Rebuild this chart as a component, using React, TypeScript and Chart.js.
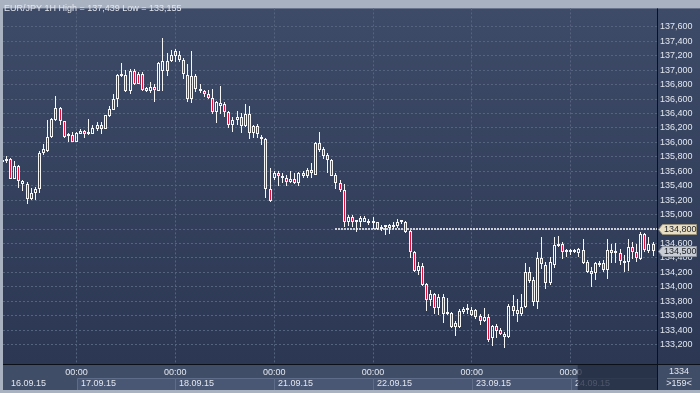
import React, { useEffect, useRef } from 'react';
import { Chart, registerables } from 'chart.js';

Chart.register(...registerables);

const TITLE = 'EUR/JPY 1H High = 137,439 Low = 133,155';

// index of the first (partly hidden) hourly bar: 06:00 on 16.09.15 ; 00:00 17.09.15 is index 17
const firstBarIndex = -1;

const opens = [
  135.740, 135.736, 135.768, 135.499, 135.676, 135.417, 135.427, 135.212, 135.294, 135.349,
  135.859, 135.886, 136.068, 136.313, 136.477, 136.296, 136.086, 136.099, 136.009, 136.122,
  136.154, 136.113, 136.122, 136.191, 136.236, 136.191, 136.364, 136.454, 136.600, 136.927,
  136.931, 136.713, 136.986, 136.950, 136.950, 136.750, 136.705, 136.760, 136.713, 136.986,
  137.122, 137.122, 137.191, 137.214, 137.146, 136.931, 136.600, 136.918, 136.736, 136.705,
  136.668, 136.614, 136.418, 136.508, 136.532, 136.418, 136.236, 136.304, 136.350, 136.222,
  136.395, 136.132, 136.222, 136.041, 136.041, 135.358, 135.509, 135.577, 135.540, 135.509,
  135.450, 135.495, 135.440, 135.577, 135.532, 135.614, 135.554, 135.996, 135.904, 135.826,
  135.750, 135.554, 135.440, 135.341, 134.904, 134.972, 134.895, 134.904, 134.904, 134.918,
  134.895, 134.895, 134.826, 134.822, 134.813, 134.826, 134.836, 134.895, 134.904, 134.768,
  134.485, 134.212, 134.294, 134.039, 133.813, 133.903, 133.704, 133.858, 133.630, 133.639,
  133.448, 133.448, 133.657, 133.676, 133.612, 133.676, 133.599, 133.521, 133.585, 133.294,
  133.462, 133.403, 133.349, 133.302, 133.735, 133.676, 133.630, 133.721, 134.203, 134.099,
  133.794, 134.394, 134.304, 134.053, 134.304, 134.567, 134.599, 134.485, 134.485, 134.476,
  134.462, 134.508, 134.349, 134.176, 134.189, 134.304, 134.335, 134.236, 134.508, 134.462,
  134.462, 134.358, 134.339, 134.553, 134.485, 134.386, 134.735, 134.495, 134.599,
];

const highs = [
  135.754, 135.813, 135.781, 135.736, 135.690, 135.485, 135.450, 135.372, 135.382, 135.881,
  135.976, 136.304, 136.341, 136.645, 136.487, 136.300, 136.132, 136.150, 136.150, 136.191,
  136.167, 136.327, 136.245, 136.282, 136.282, 136.382, 136.508, 136.668, 136.941, 137.101,
  136.996, 137.009, 137.009, 136.968, 136.968, 136.764, 136.832, 136.805, 137.114, 137.439,
  137.237, 137.282, 137.296, 137.259, 137.169, 137.087, 137.259, 136.941, 136.805, 136.723,
  136.723, 136.736, 136.577, 136.781, 136.555, 136.440, 136.358, 136.440, 136.405, 136.532,
  136.508, 136.245, 136.259, 136.099, 136.054, 135.645, 135.600, 135.600, 135.577, 135.554,
  135.600, 135.577, 135.586, 135.600, 135.645, 135.713, 136.009, 136.146, 135.941, 135.859,
  135.768, 135.577, 135.485, 135.417, 134.994, 134.994, 134.908, 134.976, 134.986, 134.940,
  134.972, 134.901, 134.850, 134.850, 134.871, 134.895, 134.940, 134.926, 134.918, 134.785,
  134.495, 134.339, 134.326, 134.053, 133.949, 133.912, 133.895, 133.903, 133.840, 133.653,
  133.530, 133.690, 133.721, 133.758, 133.721, 133.690, 133.622, 133.704, 133.622, 133.476,
  133.485, 133.431, 133.371, 133.758, 133.885, 133.826, 133.903, 134.326, 134.281, 134.131,
  134.485, 134.690, 134.349, 134.417, 134.690, 134.699, 134.622, 134.530, 134.517, 134.530,
  134.540, 134.667, 134.372, 134.281, 134.349, 134.362, 134.372, 134.667, 134.599, 134.612,
  134.530, 134.440, 134.667, 134.622, 134.599, 134.758, 134.744, 134.690, 134.622,
];

const lows = [
  135.713, 135.713, 135.495, 135.495, 135.372, 135.327, 135.144, 135.204, 135.199, 135.294,
  135.826, 135.873, 136.061, 136.290, 136.236, 136.064, 136.009, 136.000, 136.000, 136.109,
  136.054, 136.099, 136.109, 136.154, 136.122, 136.181, 136.350, 136.450, 136.487, 136.904,
  136.695, 136.668, 136.791, 136.805, 136.709, 136.695, 136.678, 136.555, 136.705, 136.709,
  136.918, 137.114, 137.118, 137.114, 136.873, 136.555, 136.541, 136.691, 136.678, 136.631,
  136.600, 136.395, 136.268, 136.395, 136.350, 136.204, 136.146, 136.236, 136.132, 136.214,
  136.041, 136.054, 136.054, 135.963, 135.236, 135.181, 135.485, 135.395, 135.440, 135.395,
  135.431, 135.417, 135.395, 135.509, 135.509, 135.509, 135.545, 135.873, 135.768, 135.577,
  135.532, 135.349, 135.313, 134.826, 134.840, 134.826, 134.758, 134.826, 134.895, 134.850,
  134.795, 134.789, 134.768, 134.721, 134.735, 134.803, 134.813, 134.871, 134.751, 134.394,
  134.203, 134.158, 134.008, 133.667, 133.735, 133.622, 133.612, 133.493, 133.612, 133.431,
  133.312, 133.431, 133.622, 133.622, 133.599, 133.553, 133.476, 133.507, 133.234, 133.176,
  133.294, 133.326, 133.155, 133.294, 133.599, 133.507, 133.599, 133.712, 134.053, 133.735,
  133.690, 134.253, 133.976, 134.021, 134.267, 134.553, 134.386, 134.417, 134.440, 134.462,
  134.417, 134.312, 134.189, 133.994, 134.099, 134.281, 134.203, 134.113, 134.326, 134.326,
  134.304, 134.203, 134.222, 134.386, 134.349, 134.372, 134.485, 134.462, 134.431,
];

const closes = [
  135.731, 135.772, 135.499, 135.676, 135.463, 135.463, 135.212, 135.304, 135.358, 135.859,
  135.904, 136.077, 136.327, 136.477, 136.296, 136.077, 136.113, 136.009, 136.132, 136.154,
  136.113, 136.136, 136.200, 136.236, 136.191, 136.372, 136.463, 136.600, 136.931, 136.920,
  136.713, 136.986, 136.814, 136.814, 136.723, 136.705, 136.764, 136.723, 137.101, 137.122,
  136.986, 137.214, 137.259, 137.146, 136.941, 136.600, 136.918, 136.736, 136.705, 136.668,
  136.614, 136.418, 136.555, 136.541, 136.418, 136.236, 136.313, 136.350, 136.222, 136.395,
  136.132, 136.222, 136.122, 136.068, 135.358, 135.191, 135.577, 135.532, 135.509, 135.450,
  135.495, 135.431, 135.577, 135.532, 135.614, 135.577, 135.996, 135.895, 135.813, 135.750,
  135.540, 135.440, 135.341, 134.904, 134.972, 134.895, 134.904, 134.949, 134.949, 134.885,
  134.890, 134.803, 134.803, 134.826, 134.850, 134.850, 134.904, 134.918, 134.758, 134.485,
  134.212, 134.294, 134.031, 133.813, 133.903, 133.704, 133.858, 133.630, 133.639, 133.448,
  133.493, 133.667, 133.690, 133.712, 133.676, 133.585, 133.521, 133.585, 133.267, 133.462,
  133.394, 133.349, 133.302, 133.735, 133.667, 133.630, 133.721, 134.203, 134.086, 133.794,
  134.394, 134.322, 134.053, 134.349, 134.577, 134.599, 134.485, 134.508, 134.489, 134.508,
  134.530, 134.326, 134.203, 134.212, 134.326, 134.335, 134.236, 134.508, 134.462, 134.485,
  134.358, 134.326, 134.553, 134.485, 134.394, 134.735, 134.508, 134.599, 134.500,
];

const dayLabels = ['16.09.15', '17.09.15', '18.09.15', '21.09.15', '22.09.15', '23.09.15', '24.09.15'];
const dayStartIndex = [-7, 17, 41, 65, 89, 113, 137];
const midnightLabel = '00:00';

const yMin = 132.931;
const yMax = 137.855;
const yTickStep = 0.2;
const yTickLow = 133.2;
const yTickHigh = 137.6;
const xMin = -0.85;
const xMax = 157.96;

const levelPrice = 134.8;
const levelFromIndex = 79.8;
const lastPrice = 134.5;
const barCountText = '1334';
const visibleBarsText = '>159<';
const shadeFromIndex = 138.7;

const FONT = "'Liberation Sans', Arial, sans-serif";
const WHITE = '#f6f6f6';
const RED = '#e3103c';
const TEXT = '#e2e7ef';
const GRID = '#56637f';

const fmt = (v: number) => v.toFixed(3).replace('.', ',');

const snapPlugin = {
  id: 'snap',
  beforeDatasetsDraw(chart: any) {
    const { ctx, chartArea: a } = chart;
    chart.data.datasets.forEach((_: any, i: number) => {
      const meta = chart.getDatasetMeta(i);
      meta.data.forEach((el: any) => {
        el.x = Math.floor(el.x) + 0.5;
        el.y = Math.round(el.y);
        el.base = Math.round(el.base);
      });
    });
    // level line (behind candles)
    const xs = chart.scales.x;
    const ys = chart.scales.y;
    const y = Math.round(ys.getPixelForValue(levelPrice));
    const x0 = Math.round(xs.getPixelForValue(levelFromIndex));
    ctx.save();
    ctx.strokeStyle = 'rgba(210,214,222,0.95)';
    ctx.lineWidth = 2;
    ctx.setLineDash([2, 1]);
    ctx.beginPath();
    ctx.moveTo(x0, y);
    ctx.lineTo(a.right, y);
    ctx.stroke();
    ctx.restore();
  },
};

const framePlugin = {
  id: 'frame',
  beforeDraw(chart: any) {
    const { ctx, chartArea: a, width: W, height: H } = chart;
    const xs = chart.scales.x;
    const axisBottom = H - 3;
    ctx.save();
    ctx.fillStyle = '#a9b2c1';
    ctx.fillRect(0, 0, W, H);
    const g = ctx.createLinearGradient(0, a.top, 0, a.bottom);
    g.addColorStop(0, '#3e4b68');
    g.addColorStop(1, '#2b3753');
    ctx.fillStyle = g;
    ctx.fillRect(a.left, a.top, W - a.left, a.bottom - a.top);
    ctx.fillStyle = '#404d67';
    ctx.fillRect(a.left, a.bottom, W - a.left, axisBottom - a.bottom);
    const boxTop = a.bottom + 14.5;
    dayStartIndex.forEach((d, i) => {
      const px = xs.getPixelForValue(d);
      if (px < a.left) return;
      const next = i + 1 < dayStartIndex.length ? xs.getPixelForValue(dayStartIndex[i + 1]) : a.right;
      const x0 = Math.round(px) + 0.5;
      const x1 = Math.min(Math.round(next) + 0.5, a.right);
      ctx.fillStyle = '#4a5774';
      ctx.fillRect(x0, boxTop, x1 - x0, axisBottom - boxTop);
      ctx.strokeStyle = '#5f6c89';
      ctx.lineWidth = 1;
      ctx.beginPath();
      ctx.moveTo(x0, axisBottom);
      ctx.lineTo(x0, boxTop);
      ctx.lineTo(x1, boxTop);
      ctx.stroke();
    });
    ctx.restore();
  },
  afterDraw(chart: any) {
    const { ctx, chartArea: a, width: W, height: H } = chart;
    const xs = chart.scales.x;
    const ys = chart.scales.y;
    const axisBottom = H - 3;
    ctx.save();
    ctx.font = `9px ${FONT}`;
    ctx.textBaseline = 'middle';
    // day labels
    ctx.fillStyle = TEXT;
    ctx.textAlign = 'left';
    dayStartIndex.forEach((d, i) => {
      const px = xs.getPixelForValue(d);
      const tx = px < a.left ? a.left + 8 : Math.round(px) + 4;
      ctx.fillText(dayLabels[i], tx, a.bottom + 19.5);
    });
    // shaded part of the time strip
    const sx = xs.getPixelForValue(shadeFromIndex);
    ctx.fillStyle = 'rgba(33,42,64,0.78)';
    ctx.fillRect(sx, a.bottom + 1, a.right - sx, axisBottom - a.bottom - 1);
    // separators
    ctx.fillStyle = '#0c1018';
    ctx.fillRect(a.left, a.bottom, W - a.left, 1);
    ctx.fillRect(a.right, a.top, 1, axisBottom - a.top);
    // price tags
    const tag = (value: number, fill: string, stroke: string) => {
      const y = Math.round(ys.getPixelForValue(value)) + 0.5;
      const l = a.right + 1.5;
      const r = W - 3.5;
      const h = 5;
      ctx.beginPath();
      ctx.moveTo(l, y);
      ctx.lineTo(l + 4, y - h);
      ctx.lineTo(r, y - h);
      ctx.lineTo(r, y + h);
      ctx.lineTo(l + 4, y + h);
      ctx.closePath();
      ctx.fillStyle = fill;
      ctx.fill();
      ctx.strokeStyle = stroke;
      ctx.lineWidth = 1;
      ctx.stroke();
      ctx.fillStyle = '#1d1f24';
      ctx.textAlign = 'left';
      ctx.fillText(fmt(value), l + 5.5, y);
    };
    tag(levelPrice, '#e8dec4', '#9b957f');
    tag(lastPrice, '#c9ced6', '#8d939e');
    // title
    ctx.fillStyle = TEXT;
    ctx.textAlign = 'left';
    ctx.fillText(TITLE, 4, 8.5);
    // corner box
    const cx = (a.right + W) / 2 + 0.5;
    ctx.textAlign = 'center';
    ctx.fillText(barCountText, cx, a.bottom + 8);
    ctx.fillText(visibleBarsText, cx, a.bottom + 20);
    ctx.fillStyle = '#7f899c';
    ctx.fillRect(cx - 12, a.bottom + 14, 25, 1);
    ctx.restore();
  },
};

export default function App() {
  const ref = useRef<HTMLCanvasElement>(null);

  useEffect(() => {
    const canvas = ref.current;
    if (!canvas) return;
    const idx = opens.map((_, i) => firstBarIndex + i);
    const upper = idx.map((x, i) => ({ x, y: [Math.max(opens[i], closes[i]), highs[i]] }));
    const lower = idx.map((x, i) => ({ x, y: [lows[i], Math.min(opens[i], closes[i])] }));
    const bodies = idx.map((x, i) => ({ x, y: [opens[i], closes[i]] }));
    const fills = idx.map((_, i) => (closes[i] < opens[i] ? RED : 'rgba(0,0,0,0)'));

    const chart = new Chart(canvas, {
      type: 'bar',
      data: {
        datasets: [
          {
            label: 'upper',
            data: upper as any,
            backgroundColor: WHITE,
            borderWidth: 0,
            barThickness: 1,
            grouped: false,
            order: 2,
            clip: 0,
            inflateAmount: 0,
          } as any,
          {
            label: 'lower',
            data: lower as any,
            backgroundColor: WHITE,
            borderWidth: 0,
            barThickness: 1,
            grouped: false,
            order: 2,
            clip: 0,
            inflateAmount: 0,
          } as any,
          {
            label: 'body',
            data: bodies as any,
            backgroundColor: fills,
            borderColor: WHITE,
            borderWidth: 1,
            borderSkipped: false,
            barThickness: 3,
            minBarLength: 2,
            grouped: false,
            order: 0,
            clip: 0,
            inflateAmount: 0,
          } as any,
        ],
      },
      options: {
        responsive: false,
        animation: false,
        devicePixelRatio: 1,
        layout: { padding: { left: 3, top: 3, right: 0, bottom: 0 } },
        plugins: { legend: { display: false }, tooltip: { enabled: false } },
        events: [],
        scales: {
          x: {
            type: 'linear',
            position: 'bottom',
            min: xMin,
            max: xMax,
            offset: false,
            afterBuildTicks: (s: any) => {
              s.ticks = dayStartIndex.filter((v) => v >= xMin && v <= xMax).map((v) => ({ value: v }));
            },
            afterFit: (s: any) => {
              s.height = 29;
            },
            ticks: {
              callback: () => midnightLabel,
              color: TEXT,
              font: { family: FONT, size: 9 },
              padding: 3,
              autoSkip: false,
              maxRotation: 0,
              minRotation: 0,
            },
            grid: { color: GRID, lineWidth: 1, drawTicks: false, offset: false },
            border: { display: false, dash: [2, 2] },
          },
          y: {
            type: 'linear',
            position: 'right',
            min: yMin,
            max: yMax,
            afterBuildTicks: (s: any) => {
              s.ticks = s.ticks.filter((t: any) => t.value >= yTickLow - 1e-6 && t.value <= yTickHigh + 1e-6);
            },
            afterFit: (s: any) => {
              s.width = 43;
            },
            ticks: {
              stepSize: yTickStep,
              includeBounds: false,
              autoSkip: false,
              callback: (v: any) => fmt(Number(v)),
              color: TEXT,
              font: { family: FONT, size: 9 },
              padding: 3,
            },
            grid: { color: GRID, lineWidth: 1, drawTicks: false },
            border: { display: false, dash: [2, 2] },
          },
        },
      } as any,
      plugins: [framePlugin, snapPlugin],
    });
    return () => chart.destroy();
  }, []);

  return (
    <div style={{ position: 'fixed', left: 0, top: 0, width: 700, height: 393 }}>
      <canvas ref={ref} width={700} height={393} style={{ display: 'block', width: 700, height: 393 }} />
    </div>
  );
}
